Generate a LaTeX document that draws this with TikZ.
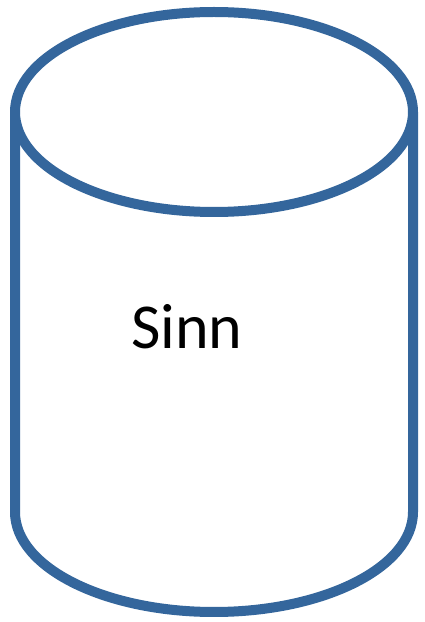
\documentclass[tikz,border=0pt]{standalone}
\usepackage{fontspec}
\setmainfont{Carlito}
\definecolor{drumblue}{HTML}{34669C}
\tikzset{
  rim/.style={draw=drumblue, line width=10pt, line join=round, fill=white},
}
\begin{document}
\begin{tikzpicture}[x=1pt,y=1pt]
\useasboundingbox (0,0) rectangle (424,622);
% body of the drum
\draw[rim] (15,510) -- (15,110) arc[start angle=180, end angle=360, x radius=199, y radius=100] -- (413,510);
% lid
\draw[rim] (214,510) ellipse[x radius=199, y radius=100];
\node[font=\fontsize{64}{68}\selectfont, inner sep=0pt] (label) at (187,295) {Sinn};
\end{tikzpicture}
\end{document}
